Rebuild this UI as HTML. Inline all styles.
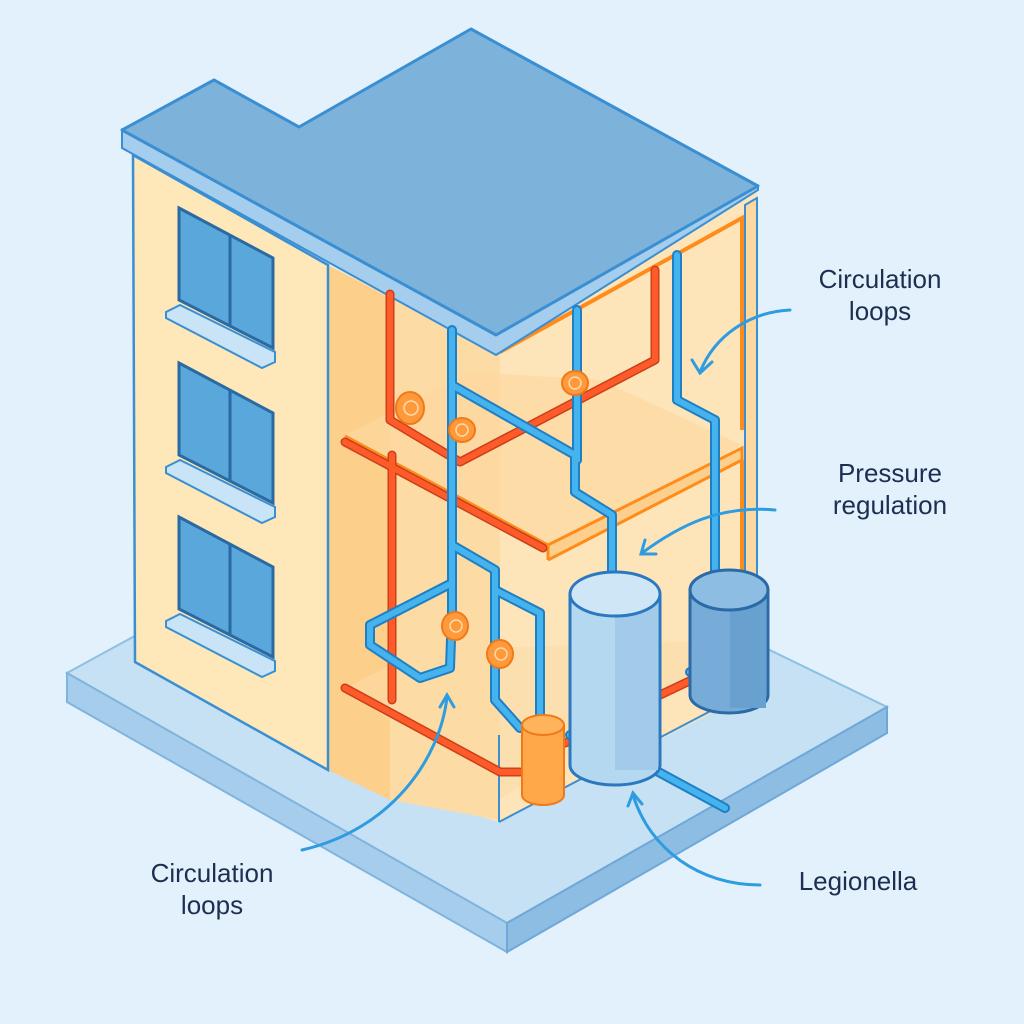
<!DOCTYPE html>
<html><head><meta charset="utf-8"><style>
html,body{margin:0;padding:0;background:#e3f1fc;}
svg{display:block}
text{font-family:"Liberation Sans",sans-serif;fill:#1c2f50;font-size:26px;text-anchor:middle}
</style></head><body>
<svg width="1024" height="1024" viewBox="0 0 1024 1024" xmlns="http://www.w3.org/2000/svg">
<rect width="1024" height="1024" fill="#e3f1fc"/>
<!-- base slab -->
<polygon points="67,673 420,480 887,707 507,923" fill="#c6e1f4" stroke="#8cc0e4" stroke-width="2"/>
<polygon points="67,673 507,923 507,952 67,702" fill="#a7cdec" stroke="#7fb4de" stroke-width="2"/>
<polygon points="507,923 887,707 887,733 507,952" fill="#8dbde3" stroke="#6fa8d8" stroke-width="2"/>
<!-- interior background -->
<polygon points="328,265 500,350 757,190 757,690 499,822 328,770" fill="#fde5b9"/>
<polygon points="328,265 390,298 390,800 328,770" fill="#fccf8a"/>
<polygon points="390,298 500,350 500,820 390,800" fill="#fddba4"/>
<!-- right wall frame -->
<polygon points="745,205 757,198 757,690 745,697" fill="#fdd8a0" stroke="#3a8fd3" stroke-width="2"/>
<polyline points="500,352 742,218 742,430" fill="none" stroke="#ff8c1a" stroke-width="4"/>
<polyline points="742,460 742,690" fill="none" stroke="#ff8c1a" stroke-width="4"/>
<!-- upper floor slab -->
<polygon points="345,435 470,372 600,380 742,445 548,548" fill="#fcd9a0" opacity="0.7"/>
<polyline points="548,545 742,448 742,460 548,560" fill="#fcd08c" stroke="#ff8c1a" stroke-width="3"/>
<polyline points="345,436 548,545 548,560" fill="none" stroke="#ff8c1a" stroke-width="3"/>
<!-- lower floor -->
<polygon points="345,688 420,650 742,640 499,800" fill="#fcdba6" opacity="0.6"/>
<line x1="499" y1="735" x2="499" y2="822" stroke="#3a8fd3" stroke-width="2"/>
<line x1="499" y1="822" x2="745" y2="693" stroke="#3a8fd3" stroke-width="2"/>
<!-- left wall -->
<polygon points="133,155 328,265 328,770 135,662" fill="#fee7b8" stroke="#3a8fd3" stroke-width="2.5"/>
<!-- windows -->
<g stroke="#2a6aa3" stroke-width="3">
<polygon points="179,208 273,258 273,348 179,300" fill="#5aa7dc"/>
<line x1="230" y1="236" x2="230" y2="326"/>
<polygon points="179,363 273,413 273,503 179,455" fill="#5aa7dc"/>
<line x1="230" y1="391" x2="230" y2="481"/>
<polygon points="179,517 273,567 273,657 179,609" fill="#5aa7dc"/>
<line x1="230" y1="545" x2="230" y2="635"/>
</g>
<g fill="#c8e4f6" stroke="#3a8fd3" stroke-width="2">
<polygon points="166,312 180,305 275,352 275,362 262,368 166,318"/>
<polygon points="166,467 180,460 275,507 275,517 262,523 166,473"/>
<polygon points="166,621 180,614 275,661 275,671 262,677 166,627"/>
</g>
<!-- roof -->
<polygon points="122,130 122,148 496,355 758,190 758,186 496,335" fill="#a4cdee" stroke="#3a8fd3" stroke-width="2"/>
<polygon points="122,130 214,80 299,127 471,29 758,186 496,335" fill="#7db2da" stroke="#3a8fd3" stroke-width="3" stroke-linejoin="round"/>
<!-- red pipes -->
<g fill="none" stroke-linecap="round" stroke-linejoin="round">
<g stroke="#c9401a" stroke-width="9">
<polyline points="390,294 390,420 460,462 655,360 655,270"/>
<polyline points="345,442 543,548"/>
<polyline points="392,455 392,700"/>
<polyline points="345,688 500,772 520,772"/>
<polyline points="565,743 585,736"/>
<polyline points="660,695 700,676"/>
</g>
<g stroke="#ff5a2a" stroke-width="6">
<polyline points="390,294 390,420 460,462 655,360 655,270"/>
<polyline points="345,442 543,548"/>
<polyline points="392,455 392,700"/>
<polyline points="345,688 500,772 520,772"/>
<polyline points="565,743 585,736"/>
<polyline points="660,695 700,676"/>
</g>
<!-- blue pipes -->
<g stroke="#1f7fc4" stroke-width="10">
<polyline points="452,330 452,610"/>
<polyline points="452,385 575,455 575,492 612,515 612,575"/>
<polyline points="577,310 577,460"/>
<polyline points="452,545 495,570 495,700 520,728"/>
<polyline points="452,583 370,625 370,645 420,678 450,668 452,610"/>
<polyline points="495,590 540,613 540,720"/>
<polyline points="677,255 677,400 715,420 715,572"/>
<polyline points="570,735 585,728"/>
<polyline points="690,672 708,665"/>
<polyline points="640,762 725,808"/>
</g>
<g stroke="#45b4ee" stroke-width="6">
<polyline points="452,330 452,610"/>
<polyline points="452,385 575,455 575,492 612,515 612,575"/>
<polyline points="577,310 577,460"/>
<polyline points="452,545 495,570 495,700 520,728"/>
<polyline points="452,583 370,625 370,645 420,678 450,668 452,610"/>
<polyline points="495,590 540,613 540,720"/>
<polyline points="677,255 677,400 715,420 715,572"/>
<polyline points="570,735 585,728"/>
<polyline points="690,672 708,665"/>
<polyline points="640,762 725,808"/>
</g>
</g>
<!-- valves -->
<g fill="#ff9a3c" stroke="#f07a1a" stroke-width="2">
<ellipse cx="410" cy="408" rx="14" ry="16"/>
<ellipse cx="462" cy="430" rx="13" ry="12"/>
<ellipse cx="575" cy="383" rx="13" ry="12"/>
<ellipse cx="455" cy="626" rx="13" ry="14"/>
<ellipse cx="500" cy="654" rx="13" ry="14"/>
</g>
<g fill="none" stroke="#ffd9a8" stroke-width="1.5">
<circle cx="411" cy="408" r="7"/><circle cx="462" cy="430" r="6"/><circle cx="575" cy="383" r="6"/><circle cx="456" cy="626" r="6"/><circle cx="501" cy="654" r="6"/>
</g>
<!-- big tank -->
<path d="M570,594 L570,765 A45,20 0 0 0 660,765 L660,594 Z" fill="#b4d8f0" stroke="#2a78c0" stroke-width="3"/>
<rect x="615" y="600" width="43" height="170" fill="#a2cbea"/>
<ellipse cx="615" cy="594" rx="45" ry="22" fill="#cfe6f7" stroke="#2a78c0" stroke-width="3"/>
<!-- small tank -->
<path d="M690,590 L690,695 A39,18 0 0 0 768,695 L768,590 Z" fill="#78acd8" stroke="#2a6aa8" stroke-width="3"/>
<rect x="730" y="598" width="36" height="110" fill="#68a0d0"/>
<ellipse cx="729" cy="590" rx="39" ry="20" fill="#8ebde4" stroke="#2a6aa8" stroke-width="3"/>
<!-- orange cylinder -->
<path d="M522,725 L522,795 A21,10 0 0 0 564,795 L564,725 Z" fill="#ffa84a" stroke="#f07a1a" stroke-width="2"/>
<ellipse cx="543" cy="725" rx="21" ry="10" fill="#ffb45c" stroke="#f07a1a" stroke-width="2"/>
<!-- arrows -->
<g fill="none" stroke="#2e9ce0" stroke-width="3" stroke-linecap="round">
<path d="M790,310 C750,312 715,335 700,372"/>
<path d="M692,360 L700,373 L712,362"/>
<path d="M775,510 C720,505 680,525 642,553"/>
<path d="M645,540 L641,554 L656,554"/>
<path d="M302,850 C390,830 440,760 447,697"/>
<path d="M440,707 L447,695 L454,707"/>
<path d="M760,885 C700,885 650,850 633,795"/>
<path d="M628,806 L633,793 L642,804"/>
</g>
<text x="880" y="288">Circulation</text>
<text x="880" y="320">loops</text>
<text x="890" y="482">Pressure</text>
<text x="890" y="514">regulation</text>
<text x="212" y="882">Circulation</text>
<text x="212" y="914">loops</text>
<text x="858" y="890">Legionella</text>
</svg>
</body></html>
